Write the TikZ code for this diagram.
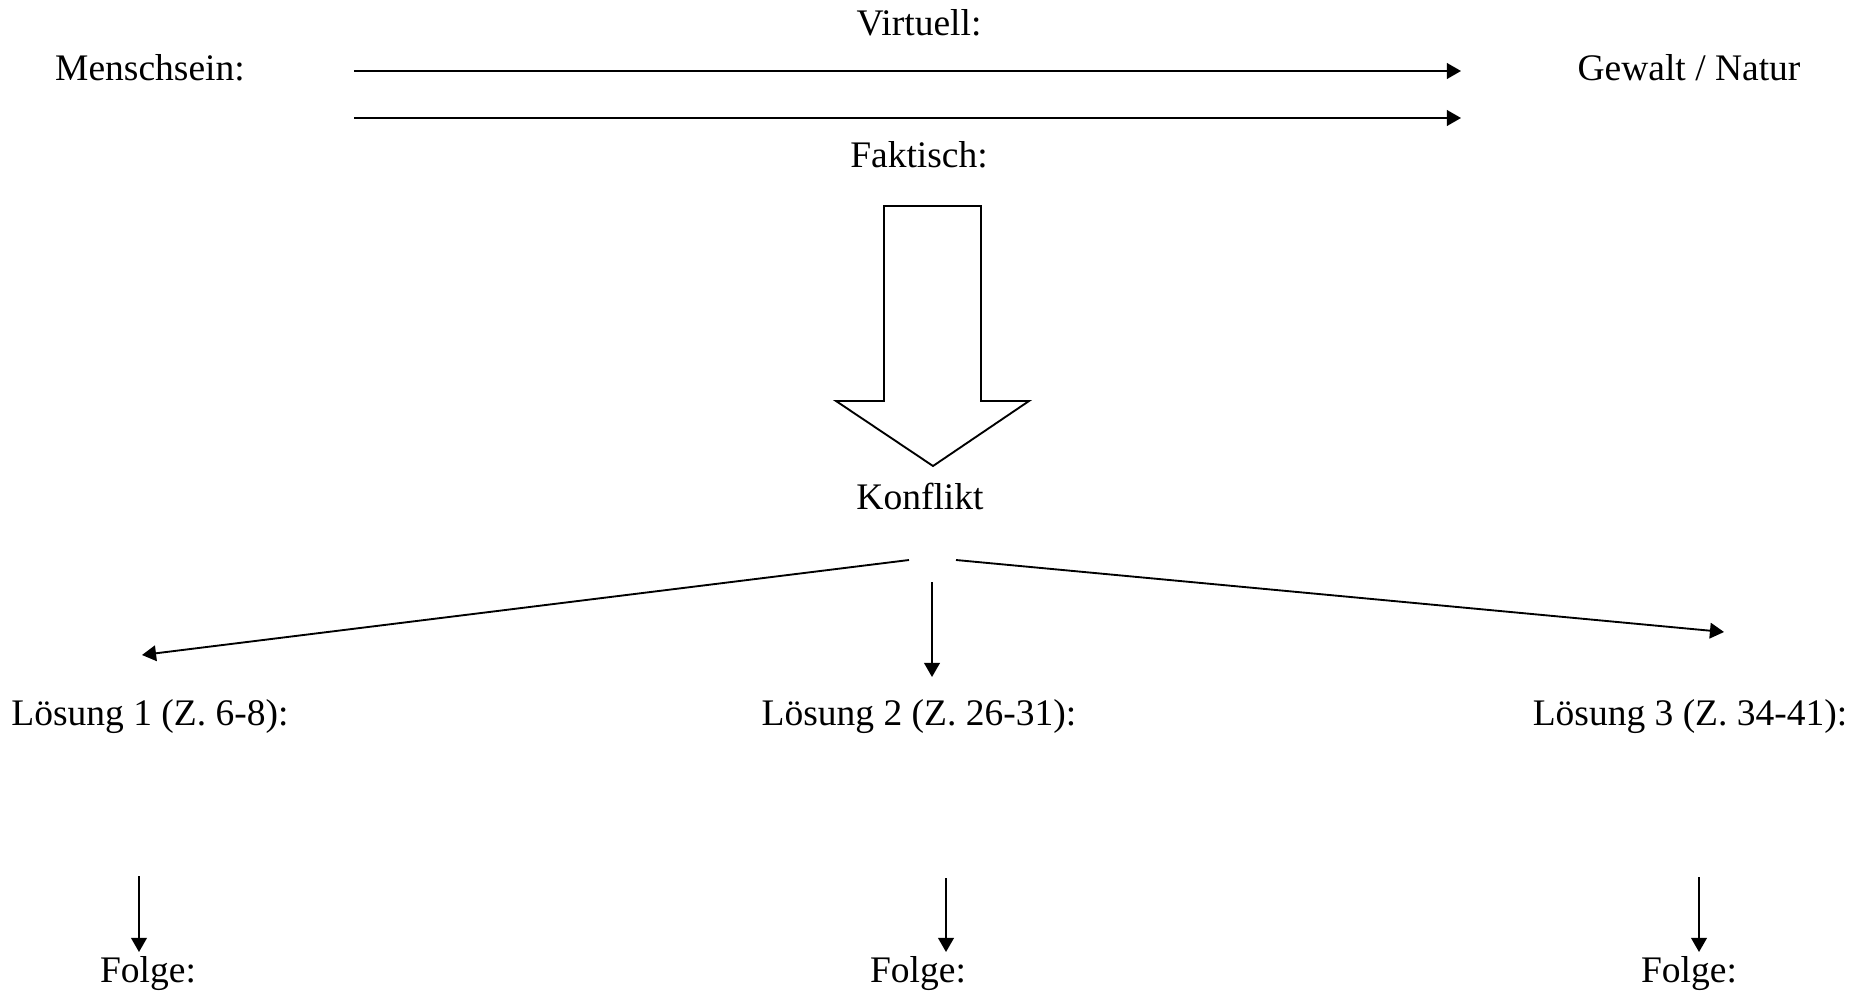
\documentclass[tikz,border=0pt]{standalone}
\usepackage{fontspec}
\setmainfont{Liberation Serif}
\usetikzlibrary{arrows.meta}

\begin{document}
\begin{tikzpicture}[x=0.32pt, y=-0.32pt]
               \tikzstyle{myTxt}=[inner sep=0pt, anchor=base, font=\fontsize{12}{14}\selectfont]
               \tikzstyle{myArr}=[-{Triangle[length=4.5pt, width=5pt]}, line width=0.6pt]

               \useasboundingbox (0,0) rectangle (1865,1001);

               \node[myTxt] (mensch) at (150,81) {Menschsein:};
               \node[myTxt] (gewalt) at (1689,81) {Gewalt / Natur};
               \node[myTxt] (virtuell) at (919,36) {Virtuell:};
               \node[myTxt] (faktisch) at (919,168) {Faktisch:};
               \node[myTxt] (konflikt) at (920,509) {Konflikt};
               \node[myTxt] (loes1) at (150,725) {Lösung 1 (Z. 6-8):};
               \node[myTxt] (loes2) at (919,725) {Lösung 2 (Z. 26-31):};
               \node[myTxt] (loes3) at (1690,725) {Lösung 3 (Z. 34-41):};
               \node[myTxt] (folge1) at (148,982) {Folge:};
               \node[myTxt] (folge2) at (918,982) {Folge:};
               \node[myTxt] (folge3) at (1689,982) {Folge:};

               \coordinate (vA) at (354,71);
               \coordinate (vB) at (1461,71);
               \coordinate (fA) at (354,118);
               \coordinate (fB) at (1461,118);
               \coordinate (kL) at (909,560);
               \coordinate (kM) at (932,582);
               \coordinate (kR) at (956,560);
               \coordinate (l1) at (142,655);
               \coordinate (l2) at (932,677);
               \coordinate (l3) at (1724,632);

               \draw[myArr] (vA) -- (vB);
               \draw[myArr] (fA) -- (fB);

               % big down arrow
               \draw[line width=0.6pt] (884,206) -- (981,206) -- (981,401) -- (1029,401)
                        -- (933,466) -- (836,401) -- (884,401) -- cycle;

               \draw[myArr] (kL) -- (l1);
               \draw[myArr] (kM) -- (l2);
               \draw[myArr] (kR) -- (l3);

               \draw[myArr] (139,876) -- (139,952);
               \draw[myArr] (946,878) -- (946,952);
               \draw[myArr] (1699,877) -- (1699,952);
            \end{tikzpicture}
\end{document}
